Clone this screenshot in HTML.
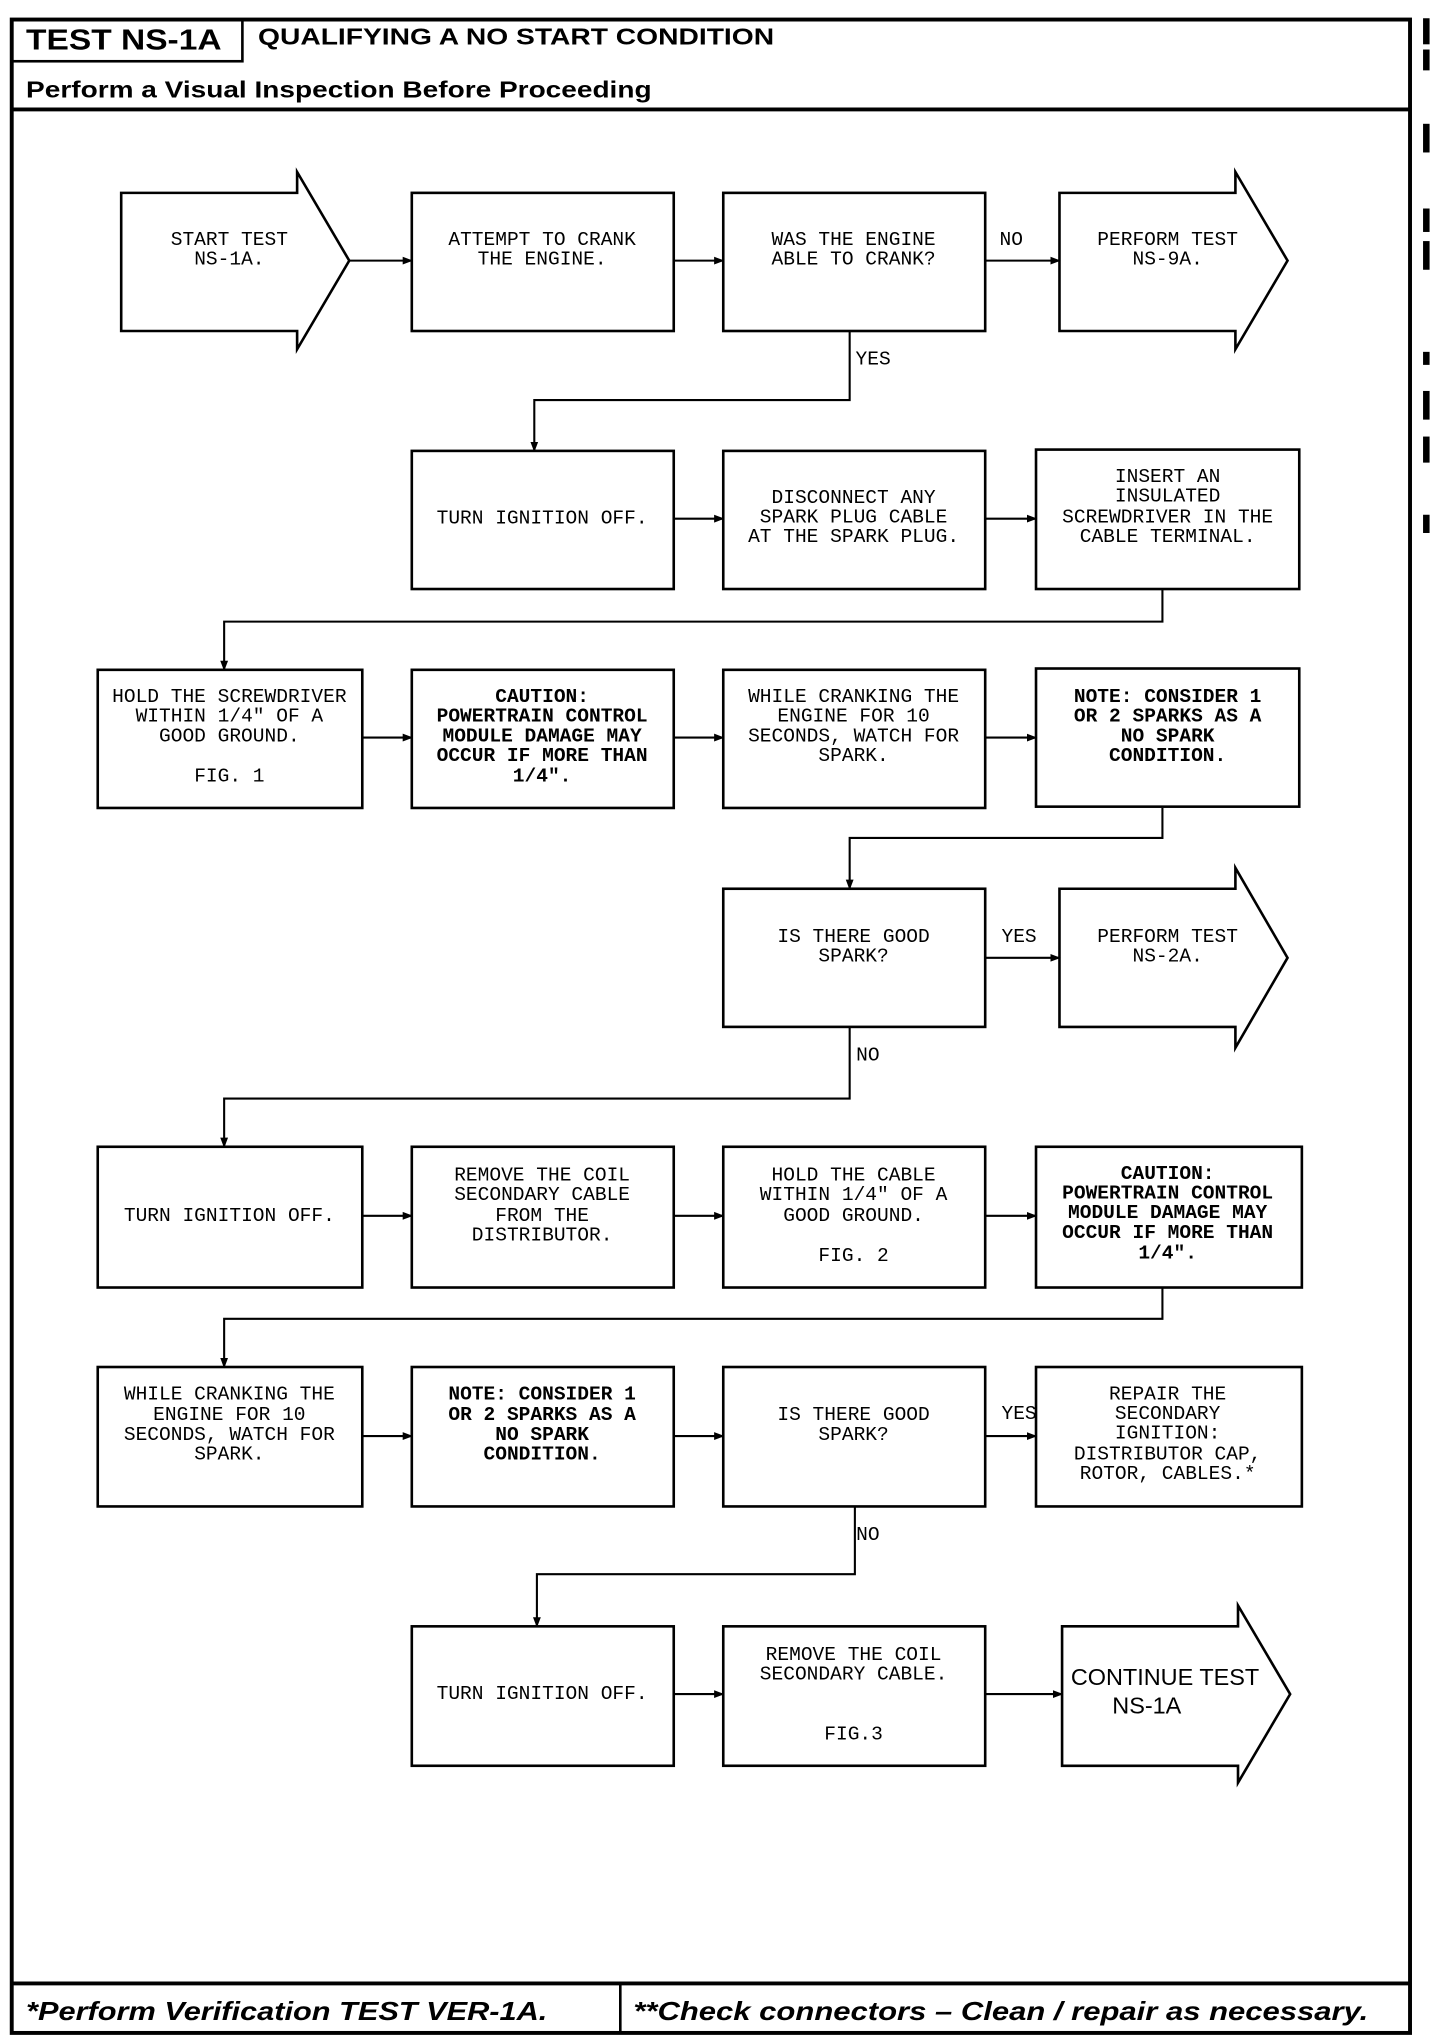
<!DOCTYPE html>
<html><head><meta charset="utf-8"><style>
html,body{margin:0;padding:0;background:#fff;}
svg{display:block;}
.t{font-family:"Liberation Mono",monospace;font-size:15px;text-anchor:middle;dominant-baseline:central;fill:#000;}
.b{font-weight:bold;}
.h{font-family:"Liberation Sans",sans-serif;font-weight:bold;fill:#000;}
</style></head><body>
<svg width="1440" height="2044" viewBox="0 0 1105 1568.5" preserveAspectRatio="none" xmlns="http://www.w3.org/2000/svg">
<defs><marker id="a" markerWidth="8" markerHeight="8" refX="7" refY="4" orient="auto" markerUnits="userSpaceOnUse"><path d="M0,1 L8,4 L0,7 Z" fill="#000"/></marker></defs>
<g fill="#000">
<rect x="1092" y="14" width="5" height="20"/><rect x="1092" y="38" width="5" height="16"/>
<rect x="1092" y="95" width="5" height="22"/><rect x="1092" y="160" width="5" height="18"/>
<rect x="1092" y="185" width="5" height="22"/><rect x="1092" y="270" width="5" height="10"/>
<rect x="1092" y="300" width="5" height="22"/><rect x="1092" y="335" width="5" height="20"/>
<rect x="1092" y="395" width="5" height="14"/>
</g>
<g fill="none" stroke="#000">
<rect x="9" y="15" width="1073" height="1545" stroke-width="3"/>
<rect x="9" y="15" width="177" height="32" stroke-width="2"/>
<line x1="9" y1="84" x2="1082" y2="84" stroke-width="3"/>
<line x1="9" y1="1522" x2="1082" y2="1522" stroke-width="3"/>
<line x1="476" y1="1522" x2="476" y2="1560" stroke-width="2"/>
<g stroke-width="2">
<path d="M93,148 H228 V132 L268,200 L228,268 V254 H93 Z"/>
<rect x="316" y="148" width="201" height="106"/>
<rect x="555" y="148" width="201" height="106"/>
<path d="M813,148 H948 V132 L988,200 L948,268 V254 H813 Z"/>
<rect x="316" y="346" width="201" height="106"/>
<rect x="555" y="346" width="201" height="106"/>
<rect x="795" y="345" width="202" height="107"/>
<rect x="75" y="514" width="203" height="106"/>
<rect x="316" y="514" width="201" height="106"/>
<rect x="555" y="514" width="201" height="106"/>
<rect x="795" y="513" width="202" height="106"/>
<rect x="555" y="682" width="201" height="106"/>
<path d="M813,682 H948 V666 L988,735 L948,804 V788 H813 Z"/>
<rect x="75" y="880" width="203" height="108"/>
<rect x="316" y="880" width="201" height="108"/>
<rect x="555" y="880" width="201" height="108"/>
<rect x="795" y="880" width="204" height="108"/>
<rect x="75" y="1049" width="203" height="107"/>
<rect x="316" y="1049" width="201" height="107"/>
<rect x="555" y="1049" width="201" height="107"/>
<rect x="795" y="1049" width="204" height="107"/>
<rect x="316" y="1248" width="201" height="107"/>
<rect x="555" y="1248" width="201" height="107"/>
<path d="M815,1248 H950 V1232 L990,1300 L950,1368 V1355 H815 Z"/>
</g>
<g stroke-width="1.6" marker-end="url(#a)">
<line x1="268" y1="200" x2="316" y2="200"/>
<line x1="517" y1="200" x2="555" y2="200"/>
<line x1="756" y1="200" x2="813" y2="200"/>
<path d="M652,254 V307 H410 V346"/>
<line x1="517" y1="398" x2="555" y2="398"/>
<line x1="756" y1="398" x2="795" y2="398"/>
<path d="M892,452 V477 H172 V514"/>
<line x1="278" y1="566" x2="316" y2="566"/>
<line x1="517" y1="566" x2="555" y2="566"/>
<line x1="756" y1="566" x2="795" y2="566"/>
<path d="M892,620 V643 H652 V682"/>
<line x1="756" y1="735" x2="813" y2="735"/>
<path d="M652,788 V843 H172 V880"/>
<line x1="278" y1="933" x2="316" y2="933"/>
<line x1="517" y1="933" x2="555" y2="933"/>
<line x1="756" y1="933" x2="795" y2="933"/>
<path d="M892,988 V1012 H172 V1049"/>
<line x1="278" y1="1102" x2="316" y2="1102"/>
<line x1="517" y1="1102" x2="555" y2="1102"/>
<line x1="756" y1="1102" x2="795" y2="1102"/>
<path d="M656,1156 V1208 H412 V1248"/>
<line x1="517" y1="1300" x2="555" y2="1300"/>
<line x1="756" y1="1300" x2="815" y2="1300"/>
</g>
</g>
<text class="h" x="20" y="38" font-size="22" textLength="150" lengthAdjust="spacingAndGlyphs">TEST NS-1A</text>
<text class="h" x="198" y="34" font-size="18" textLength="396" lengthAdjust="spacingAndGlyphs">QUALIFYING A NO START CONDITION</text>
<text class="h" x="20" y="75" font-size="18" textLength="480" lengthAdjust="spacingAndGlyphs">Perform a Visual Inspection Before Proceeding</text>
<text class="h" x="20" y="1550" font-size="20" font-style="italic" textLength="400" lengthAdjust="spacingAndGlyphs">*Perform Verification TEST VER-1A.</text>
<text class="h" x="486" y="1550" font-size="20" font-style="italic" textLength="564" lengthAdjust="spacingAndGlyphs">**Check connectors – Clean / repair as necessary.</text>

<text class="t" x="776" y="184">NO</text>
<text class="t" x="670" y="276">YES</text>
<text class="t" x="782" y="719">YES</text>
<text class="t" x="666" y="810">NO</text>
<text class="t" x="782" y="1085">YES</text>
<text class="t" x="666" y="1178">NO</text>

<text class="t" x="176" y="184">START TEST</text><text class="t" x="176" y="199">NS-1A.</text>
<text class="t" x="416" y="184">ATTEMPT TO CRANK</text><text class="t" x="416" y="199">THE ENGINE.</text>
<text class="t" x="655" y="184">WAS THE ENGINE</text><text class="t" x="655" y="199">ABLE TO CRANK?</text>
<text class="t" x="896" y="184">PERFORM TEST</text><text class="t" x="896" y="199">NS-9A.</text>

<text class="t" x="416" y="398">TURN IGNITION OFF.</text>
<text class="t" x="655" y="382">DISCONNECT ANY</text><text class="t" x="655" y="397">SPARK PLUG CABLE</text><text class="t" x="655" y="412">AT THE SPARK PLUG.</text>
<text class="t" x="896" y="366">INSERT AN</text><text class="t" x="896" y="381">INSULATED</text><text class="t" x="896" y="397">SCREWDRIVER IN THE</text><text class="t" x="896" y="412">CABLE TERMINAL.</text>

<text class="t" x="176" y="535">HOLD THE SCREWDRIVER</text><text class="t" x="176" y="550">WITHIN 1/4" OF A</text><text class="t" x="176" y="565">GOOD GROUND.</text><text class="t" x="176" y="596">FIG. 1</text>
<text class="t b" x="416" y="535">CAUTION:</text><text class="t b" x="416" y="550">POWERTRAIN CONTROL</text><text class="t b" x="416" y="565">MODULE DAMAGE MAY</text><text class="t b" x="416" y="580">OCCUR IF MORE THAN</text><text class="t b" x="416" y="596">1/4".</text>
<text class="t" x="655" y="535">WHILE CRANKING THE</text><text class="t" x="655" y="550">ENGINE FOR 10</text><text class="t" x="655" y="565">SECONDS, WATCH FOR</text><text class="t" x="655" y="580">SPARK.</text>
<text class="t b" x="896" y="535">NOTE: CONSIDER 1</text><text class="t b" x="896" y="550">OR 2 SPARKS AS A</text><text class="t b" x="896" y="565">NO SPARK</text><text class="t b" x="896" y="580">CONDITION.</text>

<text class="t" x="655" y="719">IS THERE GOOD</text><text class="t" x="655" y="734">SPARK?</text>
<text class="t" x="896" y="719">PERFORM TEST</text><text class="t" x="896" y="734">NS-2A.</text>

<text class="t" x="176" y="933">TURN IGNITION OFF.</text>
<text class="t" x="416" y="902">REMOVE THE COIL</text><text class="t" x="416" y="917">SECONDARY CABLE</text><text class="t" x="416" y="933">FROM THE</text><text class="t" x="416" y="948">DISTRIBUTOR.</text>
<text class="t" x="655" y="902">HOLD THE CABLE</text><text class="t" x="655" y="917">WITHIN 1/4" OF A</text><text class="t" x="655" y="933">GOOD GROUND.</text><text class="t" x="655" y="964">FIG. 2</text>
<text class="t b" x="896" y="901">CAUTION:</text><text class="t b" x="896" y="916">POWERTRAIN CONTROL</text><text class="t b" x="896" y="931">MODULE DAMAGE MAY</text><text class="t b" x="896" y="946">OCCUR IF MORE THAN</text><text class="t b" x="896" y="962">1/4".</text>

<text class="t" x="176" y="1070">WHILE CRANKING THE</text><text class="t" x="176" y="1086">ENGINE FOR 10</text><text class="t" x="176" y="1101">SECONDS, WATCH FOR</text><text class="t" x="176" y="1116">SPARK.</text>
<text class="t b" x="416" y="1070">NOTE: CONSIDER 1</text><text class="t b" x="416" y="1086">OR 2 SPARKS AS A</text><text class="t b" x="416" y="1101">NO SPARK</text><text class="t b" x="416" y="1116">CONDITION.</text>
<text class="t" x="655" y="1086">IS THERE GOOD</text><text class="t" x="655" y="1101">SPARK?</text>
<text class="t" x="896" y="1070">REPAIR THE</text><text class="t" x="896" y="1085">SECONDARY</text><text class="t" x="896" y="1100">IGNITION:</text><text class="t" x="896" y="1116">DISTRIBUTOR CAP,</text><text class="t" x="896" y="1131">ROTOR, CABLES.*</text>

<text class="t" x="416" y="1300">TURN IGNITION OFF.</text>
<text class="t" x="655" y="1270">REMOVE THE COIL</text><text class="t" x="655" y="1285">SECONDARY CABLE.</text><text class="t" x="655" y="1331">FIG.3</text>
<text x="894" y="1293" font-family="Liberation Sans,sans-serif" font-size="18" text-anchor="middle" fill="#000">CONTINUE TEST</text>
<text x="880" y="1315" font-family="Liberation Sans,sans-serif" font-size="18" text-anchor="middle" fill="#000">NS-1A</text>
</svg>
</body></html>
